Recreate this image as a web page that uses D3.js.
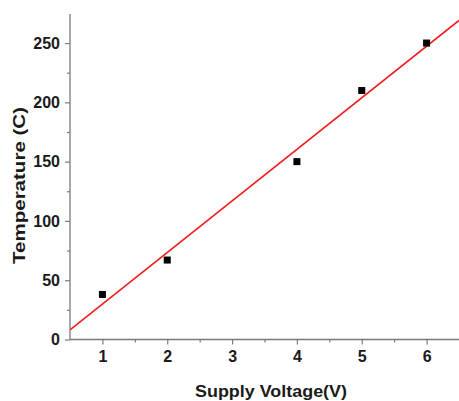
<!DOCTYPE html>
<html><head><meta charset="utf-8">
<script src="https://cdn.jsdelivr.net/npm/d3@7"></script>
<style>body{margin:0;background:#fff}svg{display:block}</style>
</head><body>
<svg id="c" width="459" height="401"></svg>
<script>
const voltages = [1, 2, 4, 5, 6];
const temperatures = [38, 67, 150, 210, 250];
const xTicks = [1, 2, 3, 4, 5, 6];
const yTicks = [0, 50, 100, 150, 200, 250];
const xMinor = [1.5, 2.5, 3.5, 4.5, 5.5];
const yMinor = [25, 75, 125, 175, 225];

const svg = d3.select("#c");
const x = d3.scaleLinear().domain([0.5, 6.5]).range([70, 459]);
const y = d3.scaleLinear().domain([0, 274.5]).range([339.5, 14]);
const txt = "#1a1a1a", axc = "#7a7a7a";

// fit line (least squares)
const mx = d3.mean(voltages), my = d3.mean(temperatures);
const sxy = d3.sum(voltages, (v, i) => (v - mx) * (temperatures[i] - my));
const sxx = d3.sum(voltages, v => (v - mx) ** 2);
const slope = sxy / sxx, icpt = my - slope * mx;
const fitX = x.domain();
svg.append("path")
  .attr("d", d3.line().x(d => x(d)).y(d => y(icpt + slope * d))(fitX))
  .attr("stroke", "#ee1c1c").attr("stroke-width", 1.6).attr("fill", "none");

// points
svg.append("g").selectAll("rect").data(voltages).join("rect")
  .attr("x", d => x(d) - 3.5).attr("y", (d, i) => y(temperatures[i]) - 3.5)
  .attr("width", 7).attr("height", 7).attr("fill", "#000");

// axes
const xa = svg.append("g").attr("transform", "translate(0,339.5)");
xa.call(d3.axisBottom(x).tickValues(xTicks).tickFormat(d3.format("d")).tickSize(5).tickPadding(6));
const xm = svg.append("g").attr("transform", "translate(0,339.5)");
xm.call(d3.axisBottom(x).tickValues(xMinor).tickFormat("").tickSize(3));
const ya = svg.append("g").attr("transform", "translate(70,0)");
ya.call(d3.axisLeft(y).tickValues(yTicks).tickFormat(d3.format("d")).tickSize(5).tickPadding(5));
const ym = svg.append("g").attr("transform", "translate(70,0)");
ym.call(d3.axisLeft(y).tickValues(yMinor).tickFormat("").tickSize(3));
svg.selectAll(".domain").attr("stroke", axc).attr("stroke-width", 1.3);
svg.selectAll(".tick line").attr("stroke", axc).attr("stroke-width", 1.2);
svg.selectAll(".tick text").attr("fill", txt)
  .style("font-family", "'Liberation Sans', Arial, sans-serif")
  .style("font-weight", "bold").style("font-size", "16px");
xm.select(".domain").remove(); ym.select(".domain").remove();
// remove outer end ticks of domain path
xa.select(".domain").attr("d", `M${x.range()[0]},0H${x.range()[1]}`);
ya.select(".domain").attr("d", `M0,${y.range()[0]}V${y.range()[1]}`);

// labels
svg.append("text").text("Supply Voltage(V)")
  .attr("x", 195).attr("y", 397)
  .attr("textLength", 152).attr("lengthAdjust", "spacingAndGlyphs")
  .attr("fill", txt)
  .style("font-family", "'Liberation Sans', Arial, sans-serif")
  .style("font-weight", "bold").style("font-size", "17px");
svg.append("text").text("Temperature (C)")
  .attr("transform", "translate(25,264) rotate(-90)")
  .attr("textLength", 157).attr("lengthAdjust", "spacingAndGlyphs")
  .attr("fill", txt)
  .style("font-family", "'Liberation Sans', Arial, sans-serif")
  .style("font-weight", "bold").style("font-size", "17px");
</script>
</body></html>
